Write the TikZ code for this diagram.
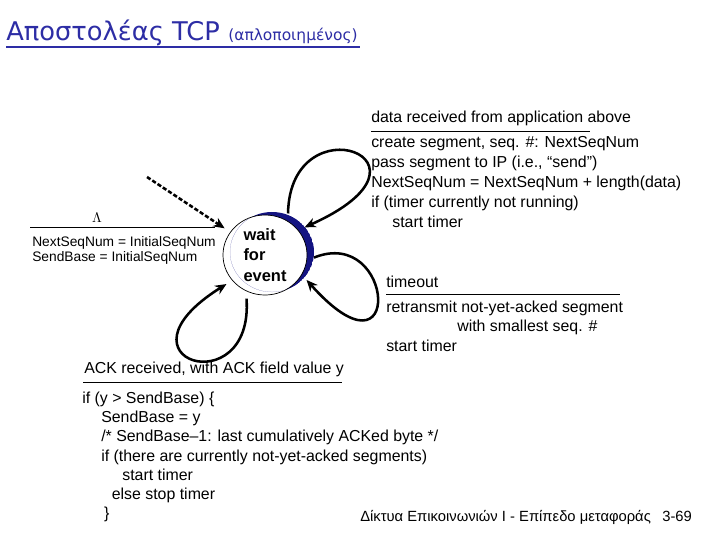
\documentclass[tikz,border=0pt]{standalone}
\usepackage{fontspec}
\setmainfont{Liberation Sans}
\newfontfamily\titlefont{DejaVu Sans}
\usetikzlibrary{positioning, shapes.geometric, arrows.meta}
\definecolor{titleblue}{RGB}{45,45,165}
\definecolor{shadeblue}{RGB}{20,20,130}

\begin{document}
\begin{tikzpicture}[x=0.025cm, y=-0.025cm,
  state/.style={ellipse, draw=black, line width=0.5pt, minimum width=2.1cm, minimum height=2cm,
                inner sep=0pt, outer sep=5pt, align=left, font=\fontsize{11.7}{14.5}\selectfont\bfseries},
  trans/.style={line width=1.8pt, -{Stealth[length=8pt, width=7pt]}},
  initarrow/.style={trans, dash pattern=on 3pt off 1.5pt},
  lbl/.style={inner sep=0pt, anchor=north west, align=left, font=\fontsize{11.3}{14.2}\selectfont},
  small/.style={lbl, font=\fontsize{9.8}{10.7}\selectfont},
  rule/.style={line width=0.7pt}]
  \useasboundingbox (0,0) rectangle (720,540);
  % title
  \node[inner sep=0pt, anchor=base west, text=titleblue, font=\titlefont\fontsize{18.3}{22}\selectfont] (title) at (6,40) {Αποστολέας TCP};
  \node[inner sep=0pt, anchor=base west, text=titleblue, font=\titlefont\fontsize{11}{13}\selectfont] (sub) at (228,40) {(απλοποιημένος)};
  \draw[titleblue, line width=1pt] (6,47) -- (360,47);
  % state with its shading
  \coordinate (c) at (265,255);
  \begin{scope}
    \clip ([shift={(7,-3)}]c) ellipse [x radius=1.05cm, y radius=1cm];
    \fill[shadeblue, even odd rule] ([shift={(7,-3)}]c) ellipse [x radius=1.05cm, y radius=1cm]
      (c) ellipse [x radius=1.05cm, y radius=1cm];
  \end{scope}
  \node[state] (wait) at (c) {wait\\for\\event};
  % initial transition
  \coordinate (init) at (147,177);
  \draw[initarrow] (init) -- (wait);
  \node (lam) at (97,218) {$\Lambda$};
  \draw[rule] (30,227) -- (215,227);
  \node[small] (initact) at (32,236) {NextSeqNum = InitialSeqNum\\SendBase = InitialSeqNum};
  % loops
  \draw[trans] (wait.61) .. controls (290,100) and (455,160) .. (wait.35);
  \draw[trans] (wait.-3) .. controls (395,225) and (405,390) .. (wait.-31);
  \draw[trans] (wait.247) .. controls (254,405) and (105,360) .. (wait.217);
  % data from application
  \node[lbl] (ev1) at (371,111) {data received from application above};
  \draw[rule] (371,131) -- (590,131);
  \node[lbl] (act1) at (371,136.5) {create segment, seq. \#: NextSeqNum\\
    pass segment to IP (i.e., “send”)\\
    NextSeqNum = NextSeqNum + length(data)\\
    if (timer currently not running)\\
    \hspace*{15pt}start timer};
  % timeout
  \node[lbl] (ev2) at (386,275.5) {timeout};
  \draw[rule] (386,294) -- (620,294);
  \node[lbl, font=\fontsize{11.3}{13.9}\selectfont] (act2) at (386,300.5) {retransmit not-yet-acked segment\\
    \hspace*{50.5pt}with smallest seq. \#\\
    start timer};
  % ack received
  \node[lbl] (ev3) at (84,362) {ACK received, with ACK field value y};
  \draw[rule] (83,382) -- (342,382);
  \node[lbl, font=\fontsize{11.3}{13.7}\selectfont] (act3) at (82,391.5) {if (y > SendBase) \{\\
    \hspace*{13.5pt}SendBase = y\\
    \hspace*{13.5pt}/* SendBase–1: last cumulatively ACKed byte */\\
    \hspace*{13.5pt}if (there are currently not-yet-acked segments)\\
    \hspace*{28.5pt}start timer\\
    \hspace*{21pt}else stop timer\\
    \hspace*{15.5pt}\}};
  % footer
  \node[inner sep=0pt, anchor=base west, font=\fontsize{10.5}{12}\selectfont] (foot) at (360,521) {Δίκτυα Επικοινωνιών I - Επίπεδο μεταφοράς};
  \node[inner sep=0pt, anchor=base west, font=\fontsize{10.5}{12}\selectfont] (page) at (662,521) {3-69};
\end{tikzpicture}
\end{document}
